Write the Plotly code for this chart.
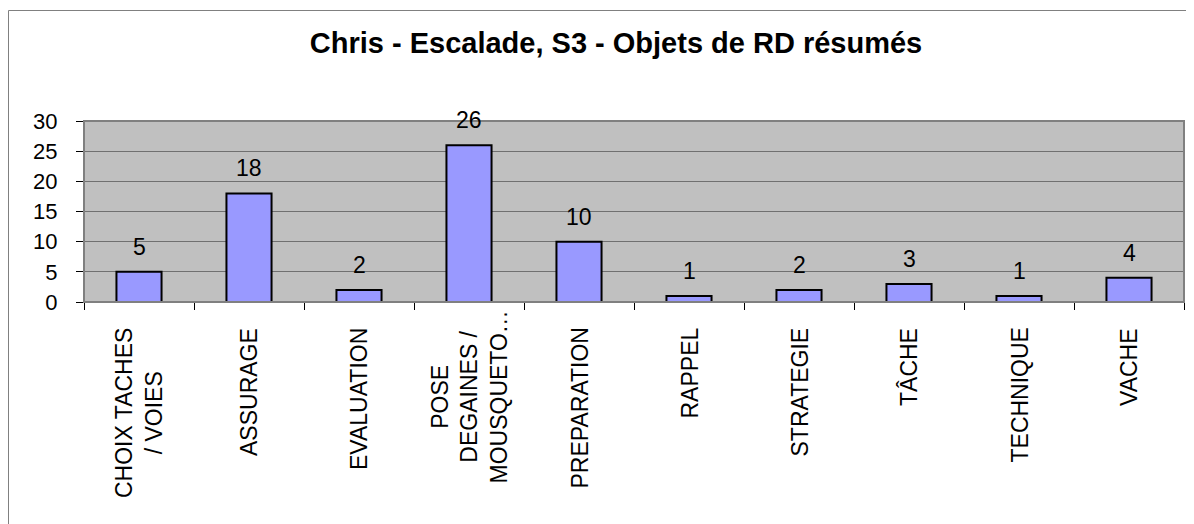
import plotly.graph_objects as go

categories = ["CHOIX TACHES<br>/ VOIES", "ASSURAGE", "EVALUATION",
              "POSE<br>DEGAINES /<br>MOUSQUETO…", "PREPARATION", "RAPPEL",
              "STRATEGIE", "TÂCHE", "TECHNIQUE", "VACHE"]
values = [5, 18, 2, 26, 10, 1, 2, 3, 1, 4]
y_ticks = [0, 5, 10, 15, 20, 25, 30]
title_text = "Chris - Escalade, S3 - Objets de RD résumés"

FONT = "Liberation Sans, Arial, sans-serif"

W, H = 1194, 524
L, R, T, B = 76, 18, 113, 230
PW, PH = W - L - R, H - T - B


def px_x(x):
    return (x - L) / PW


def px_y(y):
    return (H - B - y) / PH


fig = go.Figure()
fig.add_trace(go.Bar(
    x=categories, y=values,
    marker=dict(color="#9999FF", line=dict(color="#000000", width=2)),
    hoverinfo="skip",
))

annotations = []
for c, v in zip(categories, values):
    annotations.append(dict(
        x=c, y=v, xref="x", yref="y", text=str(v), showarrow=False,
        yanchor="bottom", xanchor="center", yshift=10,
        font=dict(family=FONT, size=23, color="#000000")))
    shift = -7 if c.count("<br>") >= 2 else -24
    annotations.append(dict(
        x=c, y=0, xref="x", yref="paper", text=c, showarrow=False,
        textangle=-90, yanchor="top", xanchor="center", yshift=shift,
        align="center",
        font=dict(family=FONT, size=23, color="#000000")))

fig.update_layout(
    width=W, height=H,
    margin=dict(l=L, r=R, t=T, b=B, autoexpand=False),
    paper_bgcolor="#FFFFFF",
    plot_bgcolor="#C0C0C0",
    bargap=0.59,
    showlegend=False,
    title=dict(text="<b>" + title_text + "</b>", x=608 / W, xanchor="center",
               y=1 - 35 / H, yanchor="middle", yref="container",
               font=dict(family=FONT, size=29, color="#000000")),
    xaxis=dict(
        type="category", showticklabels=False, tickson="boundaries",
        ticks="outside", ticklen=7, tickcolor="#000000", tickwidth=1,
        showline=True, linecolor="#000000", linewidth=1,
        showgrid=False, zeroline=False, fixedrange=True,
    ),
    yaxis=dict(
        range=[0, 30], tickvals=y_ticks, ticks="outside", ticklen=7,
        tickcolor="#000000", tickwidth=1,
        showline=True, linecolor="#000000", linewidth=1,
        showgrid=True, gridcolor="#707070", gridwidth=1, zeroline=False,
        tickfont=dict(family=FONT, size=22, color="#000000"),
        ticklabelstandoff=14, fixedrange=True, automargin=False,
    ),
    annotations=annotations,
    shapes=[
        dict(type="rect", xref="paper", yref="paper",
             x0=0, x1=1, y0=0, y1=1, line=dict(color="#808080", width=2),
             fillcolor="rgba(0,0,0,0)", layer="above"),
        dict(type="rect", xref="paper", yref="paper",
             x0=px_x(0.5), x1=px_x(W + 20),
             y0=px_y(H + 20), y1=px_y(2.5),
             line=dict(color="#808080", width=1),
             fillcolor="rgba(0,0,0,0)", layer="below"),
    ],
)

fig.write_html("out.html", config={"displayModeBar": False})
